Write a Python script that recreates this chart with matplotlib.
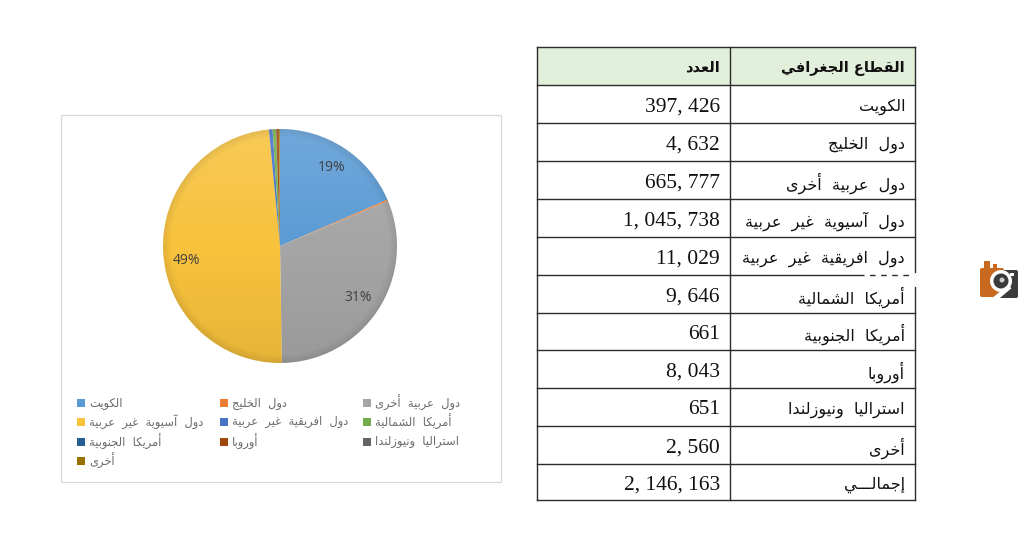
import numpy as np
import matplotlib
matplotlib.use('Agg')
import matplotlib.pyplot as plt
from matplotlib.patches import Rectangle, Circle, FancyBboxPatch, Wedge

# arabic letters -> presentation forms (isolated, final, initial, medial)
FORMS = {
    'ء': (0xFE80,), 'آ': (0xFE81, 0xFE82), 'أ': (0xFE83, 0xFE84), 'ؤ': (0xFE85, 0xFE86),
    'إ': (0xFE87, 0xFE88), 'ئ': (0xFE89, 0xFE8A, 0xFE8B, 0xFE8C), 'ا': (0xFE8D, 0xFE8E),
    'ب': (0xFE8F, 0xFE90, 0xFE91, 0xFE92), 'ة': (0xFE93, 0xFE94),
    'ت': (0xFE95, 0xFE96, 0xFE97, 0xFE98), 'ث': (0xFE99, 0xFE9A, 0xFE9B, 0xFE9C),
    'ج': (0xFE9D, 0xFE9E, 0xFE9F, 0xFEA0), 'ح': (0xFEA1, 0xFEA2, 0xFEA3, 0xFEA4),
    'خ': (0xFEA5, 0xFEA6, 0xFEA7, 0xFEA8), 'د': (0xFEA9, 0xFEAA), 'ذ': (0xFEAB, 0xFEAC),
    'ر': (0xFEAD, 0xFEAE), 'ز': (0xFEAF, 0xFEB0), 'س': (0xFEB1, 0xFEB2, 0xFEB3, 0xFEB4),
    'ش': (0xFEB5, 0xFEB6, 0xFEB7, 0xFEB8), 'ص': (0xFEB9, 0xFEBA, 0xFEBB, 0xFEBC),
    'ض': (0xFEBD, 0xFEBE, 0xFEBF, 0xFEC0), 'ط': (0xFEC1, 0xFEC2, 0xFEC3, 0xFEC4),
    'ظ': (0xFEC5, 0xFEC6, 0xFEC7, 0xFEC8), 'ع': (0xFEC9, 0xFECA, 0xFECB, 0xFECC),
    'غ': (0xFECD, 0xFECE, 0xFECF, 0xFED0), 'ف': (0xFED1, 0xFED2, 0xFED3, 0xFED4),
    'ق': (0xFED5, 0xFED6, 0xFED7, 0xFED8), 'ك': (0xFED9, 0xFEDA, 0xFEDB, 0xFEDC),
    'ل': (0xFEDD, 0xFEDE, 0xFEDF, 0xFEE0), 'م': (0xFEE1, 0xFEE2, 0xFEE3, 0xFEE4),
    'ن': (0xFEE5, 0xFEE6, 0xFEE7, 0xFEE8), 'ه': (0xFEE9, 0xFEEA, 0xFEEB, 0xFEEC),
    'و': (0xFEED, 0xFEEE), 'ى': (0xFEEF, 0xFEF0), 'ي': (0xFEF1, 0xFEF2, 0xFEF3, 0xFEF4),
    'ـ': (0x0640, 0x0640, 0x0640, 0x0640),
}
LAM_ALEF = {'آ': (0xFEF5, 0xFEF6), 'أ': (0xFEF7, 0xFEF8), 'إ': (0xFEF9, 0xFEFA), 'ا': (0xFEFB, 0xFEFC)}


def joins_next(c):
    return c in FORMS and len(FORMS[c]) == 4


def shape_word(word):
    out = []
    i = 0
    prev_joins = False
    while i < len(word):
        c = word[i]
        if c == 'ل' and i + 1 < len(word) and word[i + 1] in LAM_ALEF:
            out.append(chr(LAM_ALEF[word[i + 1]][1 if prev_joins else 0]))
            prev_joins = False
            i += 2
            continue
        f = FORMS[c]
        next_ok = i + 1 < len(word) and word[i + 1] in FORMS
        if len(f) == 4:
            if prev_joins and next_ok:
                g = f[3]
            elif prev_joins:
                g = f[1]
            elif next_ok:
                g = f[2]
            else:
                g = f[0]
        elif len(f) == 2:
            g = f[1] if prev_joins else f[0]
        else:
            g = f[0]
        out.append(chr(g))
        prev_joins = joins_next(c)
        i += 1
    return ''.join(reversed(out))


def ar(text, gap='  '):
    # matplotlib has no bidi, so words are flipped by hand
    return gap.join(shape_word(w) for w in reversed(text.split(' ')))


regions = ['الكويت', 'دول الخليج', 'دول عربية أخرى', 'دول آسيوية غير عربية',
           'دول افريقية غير عربية', 'أمريكا الشمالية', 'أمريكا الجنوبية', 'أوروبا',
           'استراليا ونيوزلندا', 'أخرى']
counts = [397426, 4632, 665777, 1045738, 11029, 9646, 661, 8043, 651, 2560]
count_labels = ['397, 426', '4, 632', '665, 777', '1, 045, 738', '11, 029', '9, 646',
                '661', '8, 043', '651', '2, 560']
total_name = 'إجمالـــي'
total_label = '2, 146, 163'
header = ['القطاع الجغرافي', 'العدد']
colors = ['#5B9BD5', '#ED7D31', '#A5A5A5', '#F7C23C', '#4472C4', '#70AD47',
          '#255E91', '#9E480E', '#636363', '#997300']

W, H = 1024, 551
fig = plt.figure(figsize=(W / 100, H / 100), dpi=100)
bg = fig.add_axes([0, 0, 1, 1])
bg.set_xlim(0, W)
bg.set_ylim(H, 0)
bg.axis('off')

# chart frame
bg.add_patch(Rectangle((60.5, 114.5), 440.5, 367.5, fc='white', ec='#D9D9D9', lw=0.9))

# table
row_y = [47, 85, 123, 161, 199, 237, 275, 313, 350, 388, 426, 464, 500]
col_x = [537, 730, 915]
bg.add_patch(Rectangle((col_x[0], row_y[0]), col_x[2] - col_x[0], row_y[1] - row_y[0],
                       fc='#E2EFDA', ec='none'))
for y in row_y:
    bg.plot(col_x[::2], [y, y], color='#2b2b2b', lw=1.0)
for x in col_x:
    bg.plot([x, x], [row_y[0], row_y[-1]], color='#2b2b2b', lw=1.0)
# the scan has a little hole at the right edge of the table
bg.plot([864, 917], [275, 275], color='white', lw=2, ls=(0, (2, 2)))
bg.plot([915, 915], [274, 285], color='white', lw=2)

AR_SIZE = 11.5
NUM_SIZE = 15.5
bg.text(905, 68, ar(header[0], ' '), ha='right', va='center', fontsize=10.5, fontweight='bold',
        family='DejaVu Sans', color='#111111')
bg.text(720, 67, ar(header[1]), ha='right', va='center', fontsize=AR_SIZE - 1, fontweight='bold',
        family='DejaVu Sans', color='#111111')
names = regions + [total_name]
nums = count_labels + [total_label]
for i in range(len(names)):
    yc = (row_y[i + 1] + row_y[i + 2]) / 2
    bg.text(905, yc + 3, ar(names[i]), ha='right', va='center', fontsize=AR_SIZE,
            family='DejaVu Sans', color='#111111')
    bg.text(720, yc + 3, nums[i], ha='right', va='center', fontsize=NUM_SIZE,
            family='Liberation Serif', color='#111111')

# legend, filled row by row like the office chart
leg_x = [77, 220, 363]
leg_y = [403, 422, 442, 461]
for i in range(len(regions)):
    r, c = divmod(i, 3)
    bg.add_patch(Rectangle((leg_x[c], leg_y[r] - 4), 8, 8, fc=colors[i], ec='none'))
    bg.text(leg_x[c] + 12, leg_y[r], ar(regions[i]), ha='left', va='center', fontsize=8.3,
            family='DejaVu Sans', color='#6b6b6b')

# pie
cx, cy, rad = 280, 246, 117
ax = fig.add_axes([(cx - rad) / W, 1 - (cy + rad) / H, 2 * rad / W, 2 * rad / H])


def pct_text(p):
    return f'{p:.0f}%' if p > 5 else ''


wedges, _, autotexts = ax.pie(counts, colors=colors, startangle=90, counterclock=False,
                              radius=1, autopct=pct_text, pctdistance=0.8,
                              wedgeprops={'lw': 0},
                              textprops={'fontsize': 10, 'color': '#404040', 'family': 'Open Sans'})
autotexts[3].set_y(autotexts[3].get_position()[1] - 0.08)

# soft shading: lighter on top, darker at the bottom and on the rim
yy, xx = np.mgrid[1:-1:300j, -1:1:300j]
rr = np.hypot(xx, yy)
shade = np.zeros((300, 300, 4))
dark = np.clip(-yy, 0, 1) * 0.07 + np.clip(rr - 0.93, 0, 1) * 1.2
light = np.clip(yy, 0, 1) * 0.14
shade[..., :3] = (light / (light + dark + 1e-6))[..., None]
shade[..., 3] = light + dark
im = ax.imshow(shade, extent=(-1, 1, -1, 1), zorder=2, aspect='auto')
im.set_clip_path(Circle((0, 0), 1, transform=ax.transData))
ax.set_xlim(-1, 1)
ax.set_ylim(-1, 1)
ax.axis('off')

# logo on the right
bg.add_patch(FancyBboxPatch((980, 268), 24, 29, boxstyle='round,pad=0,rounding_size=2',
                            fc='#C8691F', ec='none'))
bg.add_patch(Rectangle((984, 261), 6, 8, fc='#C8691F', ec='none'))
bg.add_patch(Rectangle((993, 264), 4, 5, fc='#C8691F', ec='none'))
bg.add_patch(FancyBboxPatch((999, 270), 19, 28, boxstyle='round,pad=0,rounding_size=2',
                            fc='#3c3c3c', ec='none'))
bg.add_patch(Circle((1001, 281), 11, fc='white', ec='none'))
bg.add_patch(Circle((1001, 281), 7.5, fc='#3a3a3a', ec='none'))
bg.add_patch(Circle((1002, 280), 2.5, fc='#cccccc', ec='none'))
bg.plot([1008, 995], [288, 299], color='white', lw=3.5)
bg.add_patch(Rectangle((1010, 273), 4, 3, fc='white', ec='none'))

fig.savefig('out.png', dpi=100, facecolor='white')
